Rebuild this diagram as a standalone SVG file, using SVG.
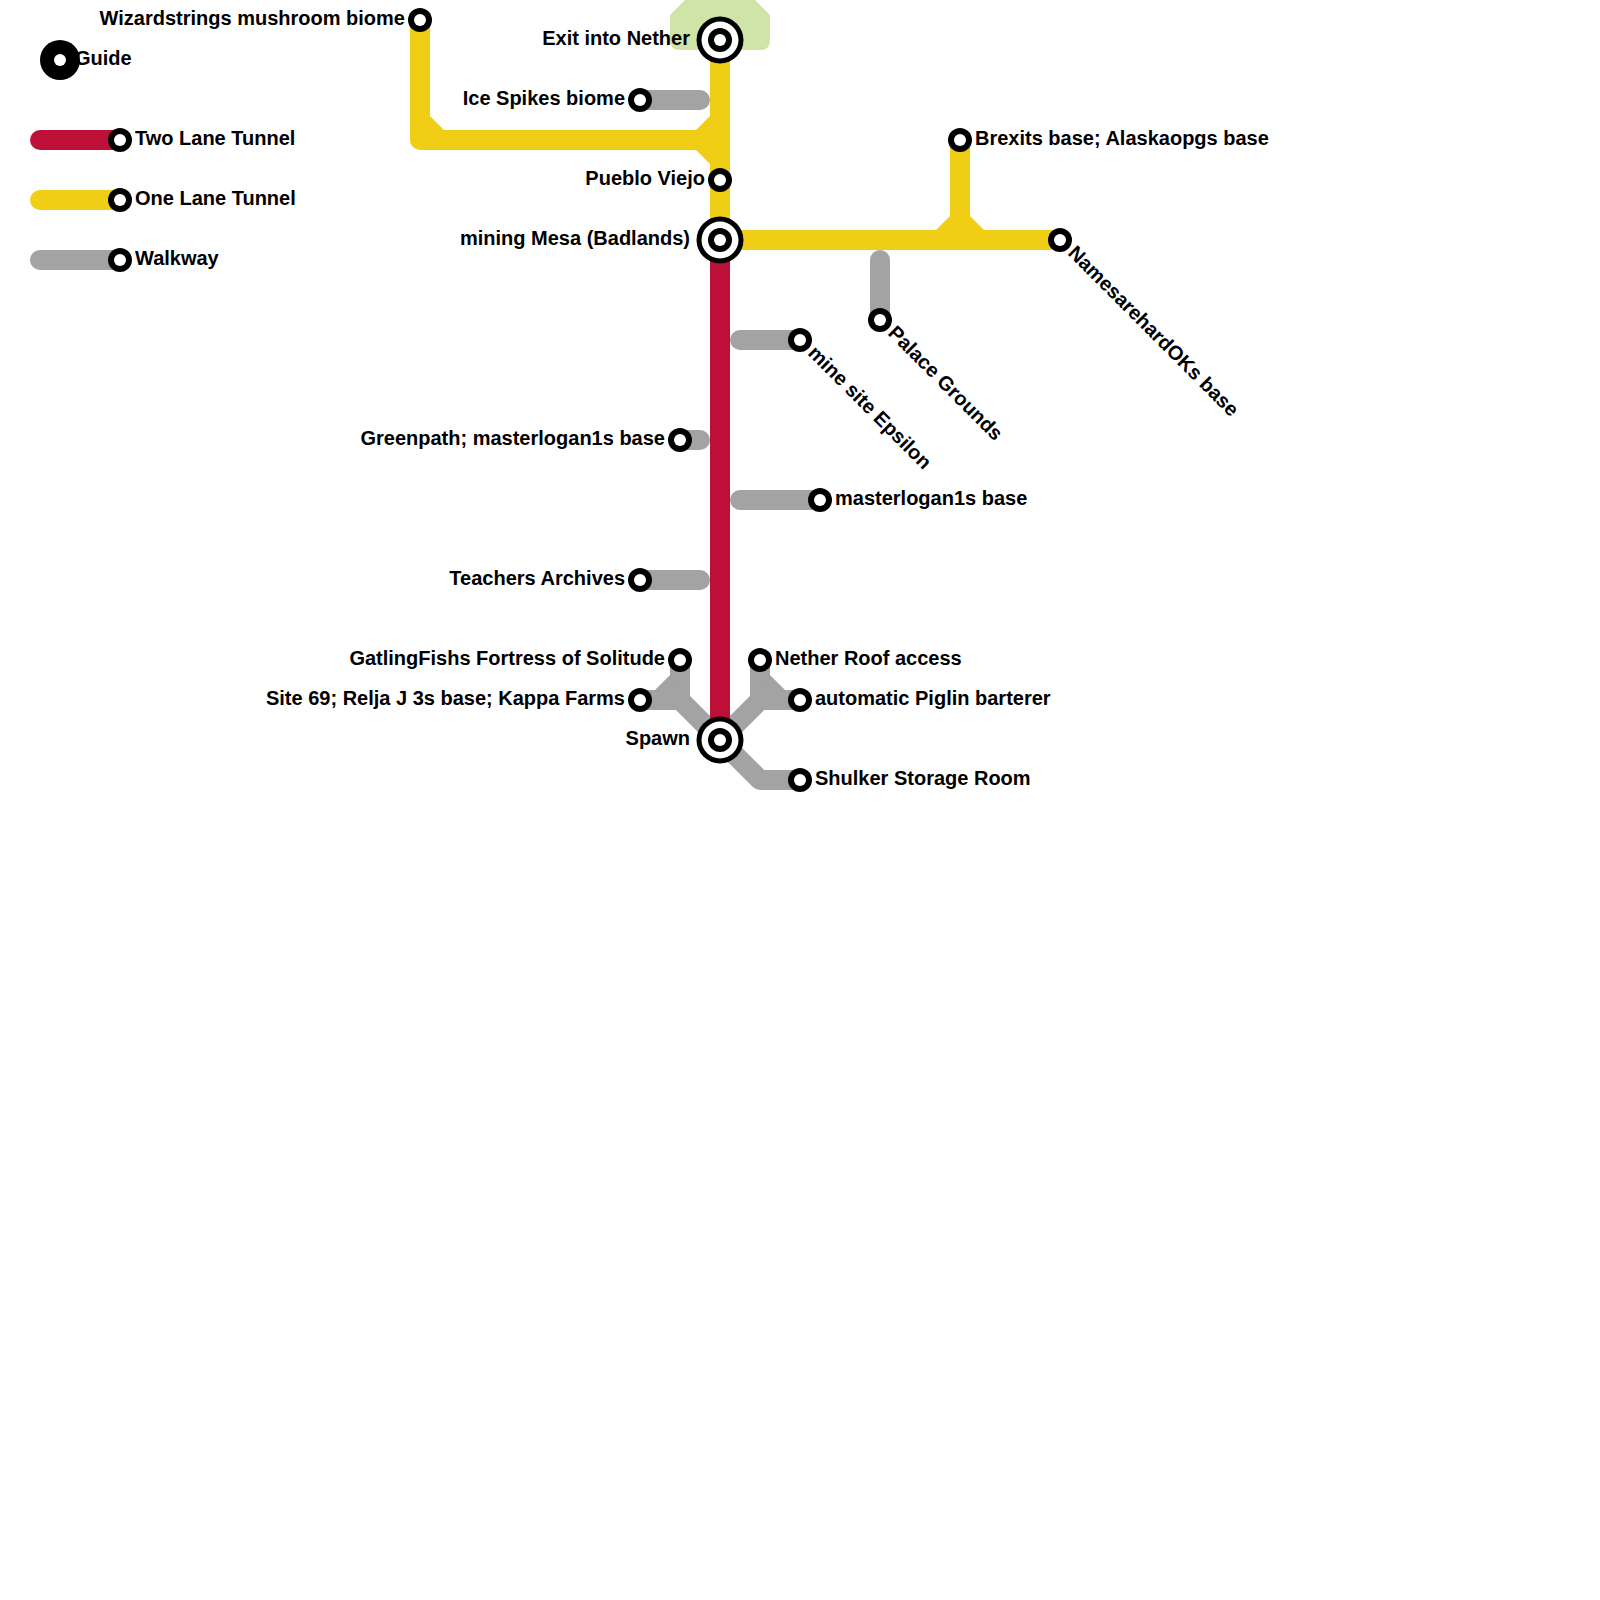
<svg xmlns="http://www.w3.org/2000/svg" width="1600" height="1600" viewBox="0 0 1600 1600">
<style>
.l{fill:none;stroke-width:20;stroke-linecap:round;stroke-linejoin:round}
.r{stroke:#bd1038}.y{stroke:#f0ce15}.g{stroke:#a3a3a3}
.fy{fill:#f0ce15}.fg{fill:#a3a3a3}
.o{fill:#000}.w{fill:#fff}
text{font-family:"Liberation Sans",Arial,sans-serif;font-weight:700;font-size:20px;fill:#000}
.e{text-anchor:end}
</style>
<defs>
<g id="st"><circle r="12" class="o"/><circle r="6" class="w"/></g>
<g id="ic"><circle r="23.5" class="o"/><circle r="18.5" class="w"/><circle r="12" class="o"/><circle r="6" class="w"/></g>
</defs>
<path id="area" d="M680 50H760Q770 50 770 40V15L755 0H685L670 15V40Q670 50 680 50Z" fill="#cfe4a7"/>
<g id="connectors">
<path class="l g" d="M640 100H700"/>
<path class="l g" d="M880 260V320"/>
<path class="l g" d="M740 340H800"/>
<path class="l g" d="M680 440H700"/>
<path class="l g" d="M740 500H820"/>
<path class="l g" d="M640 580H700"/>
<path class="l g" d="M680 660V700M640 700H680L720 740"/>
<path class="l g" d="M760 660V700M800 700H760L720 740"/>
<path class="l g" d="M720 740L760 780H800"/>
<polygon class="fg" points="670,675 655,690 680,700"/>
<polygon class="fg" points="770,675 785,690 760,700"/>
<path class="l r" d="M720 240V740"/>
<path class="l y" d="M720 40V240M420 20V140H720M720 240H1060M960 140V240"/>
<polygon class="fy" points="696,130 710,116 710,164 696,150"/>
<polygon class="fy" points="936,230 950,216 970,216 984,230"/>
<polygon class="fy" points="430,116 444,130 430,130"/>
<path class="l r" d="M40 140H120"/>
<path class="l y" d="M40 200H120"/>
<path class="l g" d="M40 260H120"/>
</g>
<g id="guide"><circle cx="60" cy="60" r="20" class="o"/><circle cx="60" cy="60" r="6" class="w"/><text x="75" y="65">Guide</text></g>
<g id="legend-two"><use href="#st" x="120" y="140"/><text x="135" y="145">Two Lane Tunnel</text></g>
<g id="legend-one"><use href="#st" x="120" y="200"/><text x="135" y="205">One Lane Tunnel</text></g>
<g id="legend-walk"><use href="#st" x="120" y="260"/><text x="135" y="265">Walkway</text></g>
<g id="wizard"><use href="#st" x="420" y="20"/><text class="e" x="405" y="25">Wizardstrings mushroom biome</text></g>
<g id="exit"><use href="#ic" x="720" y="40"/><text class="e" x="690" y="45">Exit into Nether</text></g>
<g id="ice"><use href="#st" x="640" y="100"/><text class="e" x="625" y="105">Ice Spikes biome</text></g>
<g id="pueblo"><use href="#st" x="720" y="180"/><text class="e" x="705" y="185">Pueblo Viejo</text></g>
<g id="mesa"><use href="#ic" x="720" y="240"/><text class="e" x="690" y="245">mining Mesa (Badlands)</text></g>
<g id="brexits"><use href="#st" x="960" y="140"/><text x="975" y="145">Brexits base; Alaskaopgs base</text></g>
<g id="names"><use href="#st" x="1060" y="240"/><text transform="translate(1067 254) rotate(45)">NamesarehardOKs base</text></g>
<g id="palace"><use href="#st" x="880" y="320"/><text transform="translate(887 334) rotate(45)">Palace Grounds</text></g>
<g id="epsilon"><use href="#st" x="800" y="340"/><text transform="translate(807 354) rotate(45)">mine site Epsilon</text></g>
<g id="greenpath"><use href="#st" x="680" y="440"/><text class="e" x="665" y="445">Greenpath; masterlogan1s base</text></g>
<g id="masterlogan"><use href="#st" x="820" y="500"/><text x="835" y="505">masterlogan1s base</text></g>
<g id="teachers"><use href="#st" x="640" y="580"/><text class="e" x="625" y="585">Teachers Archives</text></g>
<g id="gatling"><use href="#st" x="680" y="660"/><text class="e" x="665" y="665">GatlingFishs Fortress of Solitude</text></g>
<g id="site69"><use href="#st" x="640" y="700"/><text class="e" x="625" y="705">Site 69; Relja J 3s base; Kappa Farms</text></g>
<g id="roof"><use href="#st" x="760" y="660"/><text x="775" y="665">Nether Roof access</text></g>
<g id="piglin"><use href="#st" x="800" y="700"/><text x="815" y="705">automatic Piglin barterer</text></g>
<g id="shulker"><use href="#st" x="800" y="780"/><text x="815" y="785">Shulker Storage Room</text></g>
<g id="spawn"><use href="#ic" x="720" y="740"/><text class="e" x="690" y="745">Spawn</text></g>
</svg>
